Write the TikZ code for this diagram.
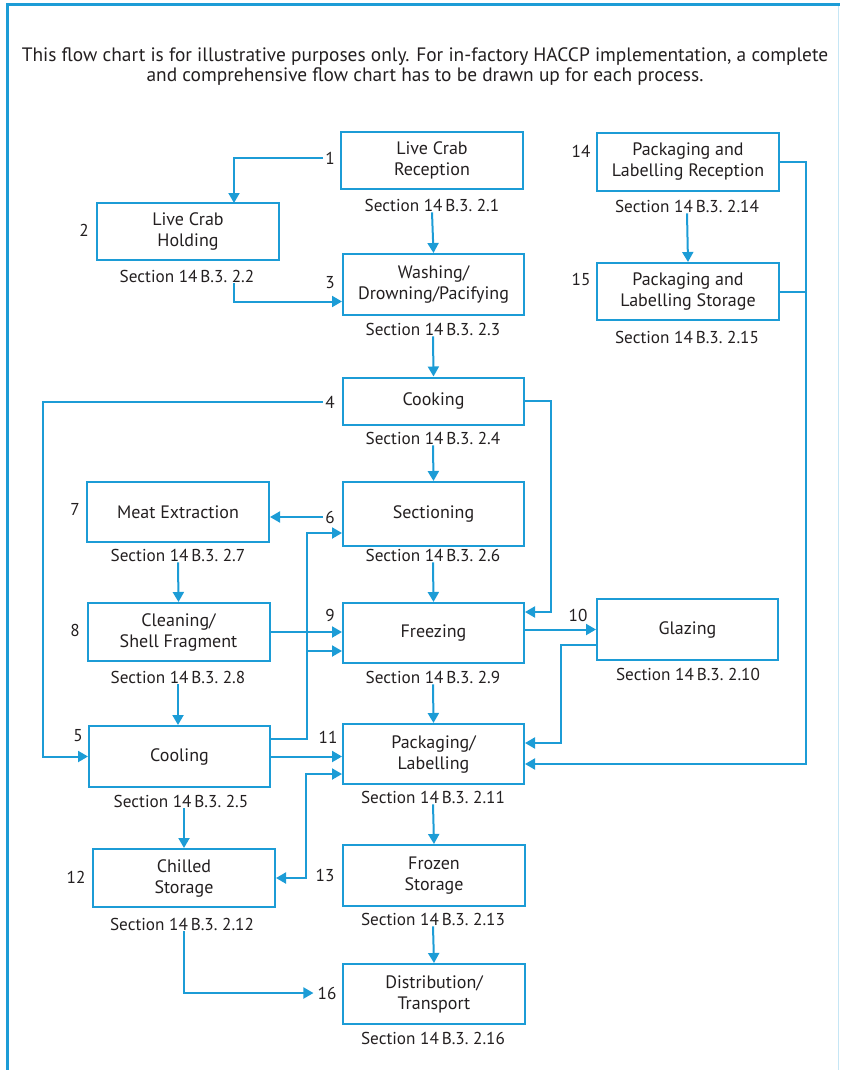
\documentclass[tikz,border=0pt]{standalone}
\usepackage{fontspec}
\setmainfont{PT Sans}
\usetikzlibrary{calc,arrows.meta}
\definecolor{fc}{RGB}{28,156,214}
\definecolor{tx}{RGB}{35,31,32}
\newcommand\bfnt{\fontsize{18}{21}\selectfont}
\newcommand\sfnt{\fontsize{17.2}{21}\selectfont}
\newcommand\tfnt{\fontsize{19.4}{20}\selectfont}
\begin{document}
\begin{tikzpicture}[x=1pt,y=-1pt,
 box/.style={draw=fc,line width=2pt,minimum width=181pt,minimum height=58pt,align=center,font=\bfnt,text=tx,inner sep=0pt},
 sec/.style={font=\sfnt,text=tx,inner sep=1pt},
 num/.style={font=\sfnt,text=tx,inner sep=2pt},
 conn/.style={draw=fc,line width=2pt},
 arr/.style={conn,-{Triangle[length=10pt,width=11pt]}},
 darr/.style={conn,{Triangle[length=10pt,width=11pt]}-{Triangle[length=10pt,width=11pt]}},
]
\useasboundingbox (0,0) rectangle (840,1070);
% frame
\draw[fc,line width=3pt] (7,1070) -- (7,4.5) -- (840,4.5);
\draw[fc!25,line width=1pt] (838.5,6) -- (838.5,1070);
% title
\node[font=\tfnt,text=tx,align=center] (title) at (425,67) {This flow chart is for illustrative purposes only. For in-factory HACCP implementation, a complete\\and comprehensive flow chart has to be drawn up for each process.};

% boxes
\node[box,minimum width=182pt,minimum height=57pt] (b1) at (432,160.5) {Live Crab\\Reception};
\node[box,minimum width=182pt,minimum height=57pt] (b2) at (188,231.5) {Live Crab\\Holding};
\node[box,minimum height=61pt] (b3) at (433.5,284.5) {Washing/\\Drowning/Pacifying};
\node[box,minimum height=47pt] (b4) at (433.5,401) {Cooking};
\node[box,minimum height=64pt] (b6) at (433.5,514) {Sectioning};
\node[box,minimum width=182pt,minimum height=60pt] (b7) at (178,512) {Meat Extraction};
\node[box,minimum width=182pt,minimum height=58pt] (b8) at (178.5,632) {Cleaning/\\Shell Fragment};
\node[box,minimum height=60pt] (b9) at (433.5,633) {Freezing};
\node[box,minimum height=61pt] (b10) at (687.5,629.5) {Glazing};
\node[box,minimum height=61pt] (b5) at (179.5,756.5) {Cooling};
\node[box,minimum height=60pt] (b11) at (433.5,754) {Packaging/\\Labelling};
\node[box,minimum width=182pt,minimum height=58pt] (b12) at (184,878) {Chilled\\Storage};
\node[box,minimum width=182pt,minimum height=61pt] (b13) at (434,875.5) {Frozen\\Storage};
\node[box,minimum width=182pt,minimum height=60pt] (b16) at (434,994) {Distribution/\\Transport};
\node[box,minimum width=182pt,minimum height=58pt] (b14) at (688,162) {Packaging and\\Labelling Reception};
\node[box,minimum width=182pt,minimum height=57pt] (b15) at (688,291.5) {Packaging and\\Labelling Storage};

% section texts
\node[sec] (s1) at (432,205) {Section 14\,B.3.\ 2.1};
\node[sec] (s2) at (187,276) {Section 14\,B.3.\ 2.2};
\node[sec] (s3) at (433,329) {Section 14\,B.3.\ 2.3};
\node[sec] (s4) at (433,438) {Section 14\,B.3.\ 2.4};
\node[sec] (s6) at (433,555) {Section 14\,B.3.\ 2.6};
\node[sec] (s7) at (178,555) {Section 14\,B.3.\ 2.7};
\node[sec] (s8) at (178,677) {Section 14\,B.3.\ 2.8};
\node[sec] (s9) at (433,677) {Section 14\,B.3.\ 2.9};
\node[sec] (s10) at (688,674) {Section 14\,B.3.\ 2.10};
\node[sec] (s5) at (181,801) {Section 14\,B.3.\ 2.5};
\node[sec] (s11) at (433,797) {Section 14\,B.3.\ 2.11};
\node[sec] (s12) at (182,924) {Section 14\,B.3.\ 2.12};
\node[sec] (s13) at (433,919) {Section 14\,B.3.\ 2.13};
\node[sec] (s16) at (433,1038) {Section 14\,B.3.\ 2.16};
\node[sec] (s14) at (687,206) {Section 14\,B.3.\ 2.14};
\node[sec] (s15) at (687,337) {Section 14\,B.3.\ 2.15};

% numbers
\node[num] (n1) at (330,158) {1};
\node[num] (n2) at (84,230) {2};
\node[num] (n3) at (330,283) {3};
\node[num] (n4) at (330,402) {4};
\node[num] (n5) at (78,736) {5};
\node[num] (n6) at (330,517) {6};
\node[num] (n7) at (75,509) {7};
\node[num] (n8) at (75,630) {8};
\node[num] (n9) at (330,615) {9};
\node[num] (n10) at (578,615) {10};
\node[num] (n11) at (328,737) {11};
\node[num] (n12) at (76,877) {12};
\node[num] (n13) at (325,875) {13};
\node[num] (n14) at (581,151) {14};
\node[num] (n15) at (581,279) {15};
\node[num,inner sep=4pt] (n16) at (327,993) {16};

% bend coordinates
\coordinate (k1) at (234,203);
\coordinate (k4) at (43,402);
\coordinate (kr) at (551,0);
\coordinate (kv6) at (307,533);
\coordinate (kv9) at (307,651);
\coordinate (kc) at (306,774);
\coordinate (kg) at (561,645);
\coordinate (kp) at (806,0);

% connectors
\draw[arr] (n1.west) -| (k1);
\draw[arr] (s1.south) -- (b3.north);
\draw[arr] (s2.south -| k1) |- ($(b3.west)+(0,17)$);
\draw[arr] (s3.south) -- (b4.north);
\draw[arr] (n4.west) -- (k4) |- (b5.west);
\draw[arr] (b4.east) -- (b4.east -| kr) |- ($(b9.east)+(0,-21)$);
\draw[arr] (s4.south) -- (b6.north);
\draw[arr] (n6.west) -- (b7.east |- n6.west);
\draw[arr] (s7.south) -- (b8.north);
\draw[arr] (s6.south) -- (b9.north);
\draw[arr] (b8.east) -- (b8.east -| b9.west);
\draw[arr] ($(b5.east)+(0,-18)$) -| (kv6) -- (kv6 -| b6.west);
\draw[arr] (kv9) -- (kv9 -| b9.west);
\draw[arr] (b5.east) -- (b5.east -| b11.west);
\draw[darr] (b12.east) -| (kc) -- (kc -| b11.west);
\draw[arr] (b12.north |- s5.south) -- (b12.north);
\draw[arr] (s8.south) -- (b5.north -| s8.south);
\draw[arr] (s9.south) -- (b11.north);
\draw[arr] (b10.west -| b9.east) -- (b10.west);
\draw[arr] (kg -| b10.west) -- (kg) |- ($(b11.east)+(0,-11)$);
\draw[arr] (b14.east) -| ($(kp |- b11.east)+(0,10)$) -- ($(b11.east)+(0,10)$);
\draw[conn] (b15.east) -- (b15.east -| kp);
\draw[arr] (s14.south) -- (b15.north);
\draw[arr] (s11.south) -- (b13.north);
\draw[arr] (s13.south) -- (b16.north);
\draw[arr] (b12.south |- s12.south) |- (n16.west);
\end{tikzpicture}
\end{document}
